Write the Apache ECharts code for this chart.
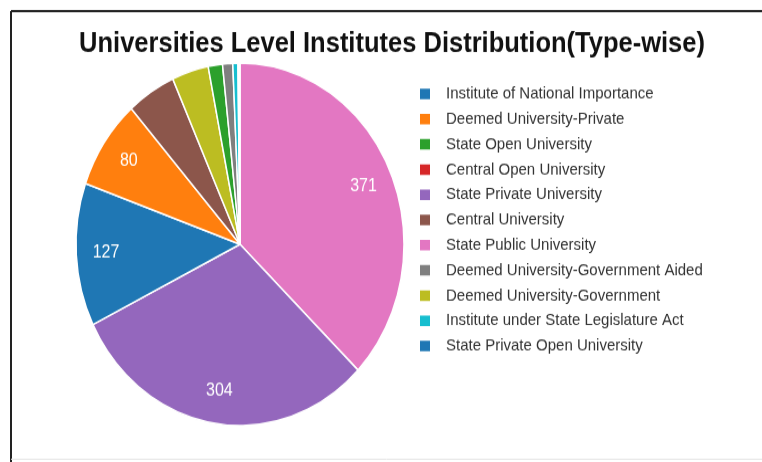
<!DOCTYPE html>
<html>
<head>
<meta charset="utf-8">
<script src="https://cdn.jsdelivr.net/npm/echarts@6/dist/echarts.min.js"></script>
<style>
html,body{margin:0;padding:0;background:#fff;overflow:hidden;}
#wrap{width:762px;height:462px;overflow:hidden;}
/* the reference picture is stretched vertically (~1.105x); reproduce it */
#chart{width:762px;height:418px;transform:scaleY(1.1053);transform-origin:0 0;}
</style>
</head>
<body>
<div id="wrap"><div id="chart"></div></div>
<script>
// Legend order (as in the reference)
const categories = [
  'Institute of National Importance',
  'Deemed University-Private',
  'State Open University',
  'Central Open University',
  'State Private University',
  'Central University',
  'State Public University',
  'Deemed University-Government Aided',
  'Deemed University-Government',
  'Institute under State Legislature Act',
  'State Private Open University'
];
const values = [127, 80, 14, 1, 304, 48, 371, 10, 36, 5, 1];
const palette = ['#1f77b4','#ff7f0e','#2ca02c','#d62728','#9467bd','#8c564b','#e377c2','#7f7f7f','#bcbd22','#17becf','#1f77b4'];
const titleText = 'Universities Level Institutes Distribution(Type-wise)';

// pie drawn sorted by value, descending, clockwise from 12 o'clock
const items = categories.map((name, i) => ({ name, value: values[i], itemStyle: { color: palette[i] } }));
const sorted = items.slice().sort((a, b) => b.value - a.value);

const chart = echarts.init(document.getElementById('chart'), null, { renderer: 'canvas' });
const R = 164;
const center = [240, 221];
chart.setOption({
  animation: false,
  backgroundColor: '#fff',
  title: {
    text: titleText,
    left: 387, top: 22, textAlign: 'center',
    textStyle: { fontFamily: 'Liberation Sans, Arial, sans-serif', fontWeight: 'bold', fontSize: 25.5, color: '#111' }
  },
  legend: {
    orient: 'vertical',
    left: 418, top: 77.5,
    padding: 0,
    itemWidth: 12, itemHeight: 11.5,
    itemGap: 7.8,
    icon: 'rect',
    data: categories,
    textStyle: { fontFamily: 'Liberation Sans, Arial, sans-serif', fontSize: 15, color: '#333', padding: [0,0,0,10] }
  },
  graphic: [
    { type: 'line', shape: { x1: 11, y1: 10, x2: 762, y2: 10 }, style: { stroke: '#222', lineWidth: 1.8 } },
    { type: 'line', shape: { x1: 11, y1: 10, x2: 11, y2: 418 }, style: { stroke: '#222', lineWidth: 2 } },
    { type: 'line', shape: { x1: 11, y1: 415.5, x2: 762, y2: 415.5 }, style: { stroke: '#e6e6e6', lineWidth: 1 } }
  ],
  series: [
    {
      type: 'pie',
      center: center,
      radius: [0, R],
      startAngle: 90,
      clockwise: true,
      avoidLabelOverlap: false,
      data: sorted,
      itemStyle: { borderColor: '#fff', borderWidth: 1.5 },
      label: { show: false },
      labelLine: { show: false },
      emphasis: { disabled: true }
    },
    {
      type: 'pie',
      center: center,
      radius: [R * 0.6, R],
      startAngle: 90,
      clockwise: true,
      silent: true,
      avoidLabelOverlap: false,
      data: sorted.map(d => ({ name: d.name, value: d.value })),
      itemStyle: { color: 'rgba(0,0,0,0)', borderWidth: 0 },
      label: {
        show: true, position: 'inside', color: '#fff', fontSize: 16,
        fontFamily: 'Liberation Sans, Arial, sans-serif',
        formatter: p => (p.value >= 80 ? String(p.value) : '')
      },
      labelLine: { show: false },
      emphasis: { disabled: true }
    }
  ]
});
</script>
</body>
</html>
